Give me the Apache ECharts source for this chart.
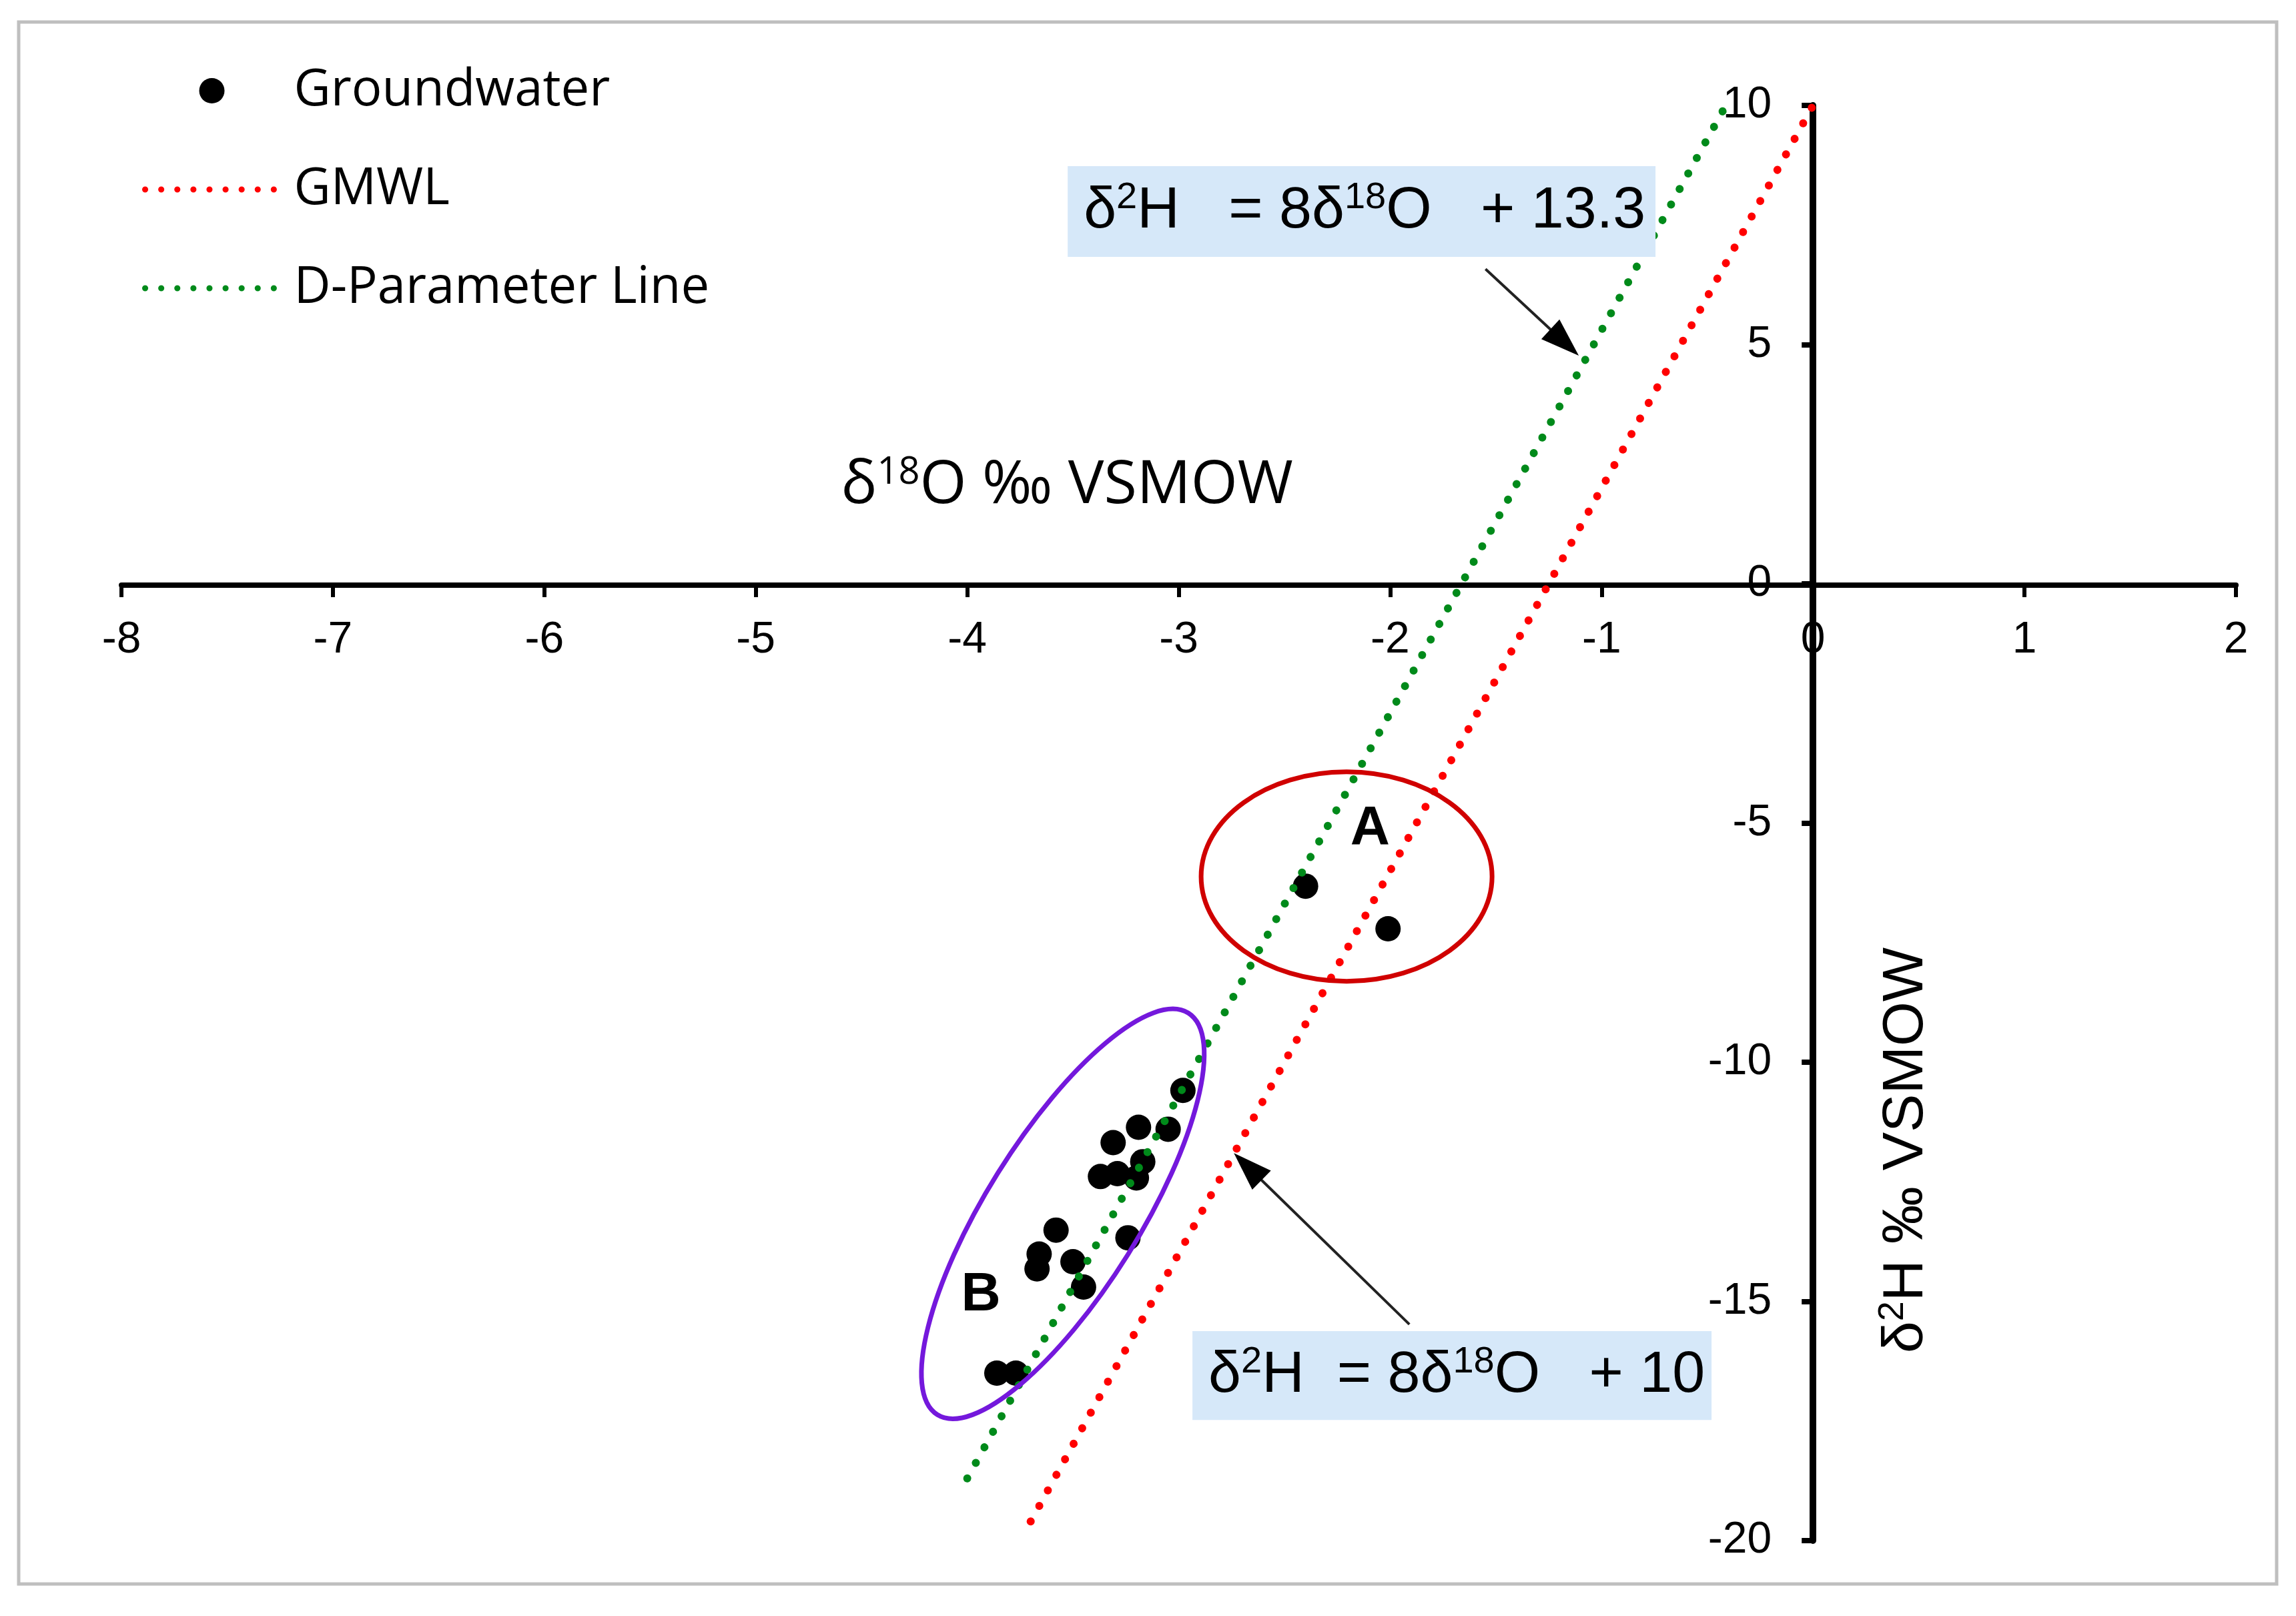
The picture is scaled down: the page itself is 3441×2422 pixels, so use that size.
<!DOCTYPE html>
<html><head><meta charset="utf-8">
<script src="https://cdn.jsdelivr.net/npm/echarts@6/dist/echarts.min.js"></script>
<style>html,body{margin:0;padding:0;background:#fff}#c{width:3441px;height:2422px}</style>
</head><body><div id="c"></div>
<script>
// ---- data ----
const groundwaterX = [-2.40, -2.01, -2.98, -3.05, -3.19, -3.31, -3.17, -3.20, -3.37, -3.29, -3.58, -3.24, -3.66, -3.50, -3.67, -3.45, -3.86, -3.77];
const groundwaterY = [-6.32, -7.21, -10.59, -11.40, -11.36, -11.68, -12.08, -12.42, -12.39, -12.33, -13.51, -13.67, -14.01, -14.17, -14.32, -14.70, -16.50, -16.50];
const gmwlX = [-3.70, 0];
const gmwlY = [-19.6, 10];
const dParamX = [-4.00, -0.4125];
const dParamY = [-18.7, 10];
const seriesNames = ['Groundwater', 'GMWL', 'D-Parameter Line'];
const xRange = [-8, 2];
const yRange = [-20, 10];

const chart = echarts.init(document.getElementById('c'), null, {renderer: 'canvas', width: 3441, height: 2422});

const legendLine = {width: 9, type: [0.1, 24], cap: 'round'};
const option = {
  animation: false,
  backgroundColor: '#ffffff',
  grid: {left: 182, right: 90, top: 158, bottom: 113, containLabel: false},
  xAxis: {
    type: 'value', min: xRange[0], max: xRange[1], interval: 1,
    axisLine: {show: true, onZero: false, lineStyle: {color: '#000', width: 8}},
    axisTick: {show: true, length: 18, lineStyle: {color: '#000', width: 6}},
    axisLabel: {fontSize: 66, color: '#000', fontFamily: 'Liberation Sans', margin: 50},
    splitLine: {show: false}
  },
  yAxis: {
    type: 'value', min: yRange[0], max: yRange[1], interval: 5,
    axisLine: {show: true, onZero: false, lineStyle: {color: '#000', width: 10}},
    axisTick: {show: true, length: 17, lineStyle: {color: '#000', width: 8}},
    axisLabel: {fontSize: 66, color: '#000', fontFamily: 'Liberation Sans', margin: 62},
    splitLine: {show: false}
  },
  legend: {
    orient: 'vertical', left: 213, top: 98, padding: 0, itemGap: 72,
    itemWidth: 200, itemHeight: 38, selectedMode: false,
    textStyle: {fontSize: 76, fontFamily: 'Open Sans', color: '#000', lineHeight: 76, padding: [0, 0, 0, 18]},
    data: [
      {name: seriesNames[0], icon: 'circle', itemStyle: {color: '#000', opacity: 1}},
      {name: seriesNames[1], lineStyle: legendLine, itemStyle: {opacity: 0}},
      {name: seriesNames[2], lineStyle: legendLine, itemStyle: {opacity: 0}}
    ]
  },
  series: [
    {
      name: seriesNames[0], type: 'scatter', symbol: 'circle', symbolSize: 38,
      itemStyle: {color: '#000', opacity: 1}, z: 2,
      data: groundwaterX.map((x, i) => [x, groundwaterY[i]])
    },
    {
      name: seriesNames[1], type: 'line', symbol: 'none', showSymbol: false, z: 3,
      itemStyle: {color: '#FF0000'},
      lineStyle: {color: '#FF0000', width: 12, type: [0.1, 26.5], cap: 'round'},
      data: gmwlX.map((x, i) => [x, gmwlY[i]])
    },
    {
      name: seriesNames[2], type: 'line', symbol: 'none', showSymbol: false, z: 3,
      itemStyle: {color: '#008A1A'},
      lineStyle: {color: '#008A1A', width: 12, type: [0.1, 26.5], cap: 'round'},
      data: dParamX.map((x, i) => [x, dParamY[i]])
    }
  ]
};
chart.setOption(option);

const P = (x, y) => chart.convertToPixel({gridIndex: 0}, [x, y]);
// move both axes (line, ticks, labels) so they cross at the origin
const o = P(0, 0);
const bottomY = P(0, yRange[0])[1];
const leftX = P(xRange[0], 0)[0];
chart.setOption({xAxis: {offset: -(bottomY - o[1])}, yAxis: {offset: -(o[0] - leftX)}});

// ---- annotations, placed in data space ----
const ux = P(1, 0)[0] - o[0];
const uy = o[1] - P(0, 1)[1];

const g = [];
g.push({type: 'rect', shape: {x: 28, y: 33, width: 3384, height: 2341}, style: {fill: 'none', stroke: '#BFBFBF', lineWidth: 5}, z: 0, silent: true});

const cA = P(-2.206, -6.12);
g.push({type: 'ellipse', x: cA[0], y: cA[1], shape: {cx: 0, cy: 0, rx: 0.688 * ux, ry: 2.22 * uy},
  style: {fill: 'none', stroke: '#D00000', lineWidth: 7}, z: 100});
const cB = P(-3.548, -13.17);
g.push({type: 'ellipse', x: cB[0], y: cB[1], rotation: 58 * Math.PI / 180,
  shape: {cx: 0, cy: 0, rx: 1.12 * ux, ry: 0.363 * ux},
  style: {fill: 'none', stroke: '#7418DC', lineWidth: 7}, z: 100});

const lA = P(-2.095, -5.12), lB = P(-3.935, -14.87);
[[lA, 'A'], [lB, 'B']].forEach(([p, t]) => g.push({type: 'text', x: p[0], y: p[1],
  style: {text: t, font: 'bold 82px "Liberation Sans"', fill: '#000', textAlign: 'center', textVerticalAlign: 'middle'}, z: 101}));

const rich = {
  n: {fontSize: 88, fontFamily: 'Liberation Sans', color: '#000'},
  s: {fontSize: 56, fontFamily: 'Liberation Sans', color: '#000', padding: [0, 0, 40, 0]}
};
function eqBox(x1, y1, x2, y2, text) {
  const a = P(x1, y1), b = P(x2, y2);
  g.push({type: 'rect', shape: {x: a[0], y: a[1], width: b[0] - a[0], height: b[1] - a[1]}, style: {fill: '#D6E8F9'}, z: 90});
  g.push({type: 'text', x: a[0] + 24, y: (a[1] + b[1]) / 2,
    style: {text: text, rich: rich, textAlign: 'left', textVerticalAlign: 'middle'}, z: 91});
}
eqBox(-3.525, 8.732, -0.745, 6.835, '{n|δ}{s|2}{n|H   = 8δ}{s|18}{n|O   + 13.3}');
eqBox(-2.935, -15.62, -0.480, -17.48, '{n|δ}{s|2}{n|H  = 8δ}{s|18}{n|O   + 10}');

function arrow(tx, ty, hx, hy) {
  const s = P(tx, ty), t = P(hx, hy);
  const dx = t[0] - s[0], dy = t[1] - s[1], L = Math.hypot(dx, dy);
  const ex = dx / L, ey = dy / L, nx = -ey, ny = ex;
  const hl = 58, hw = 40;
  const bx = t[0] - ex * hl, by = t[1] - ey * hl;
  g.push({type: 'line', shape: {x1: s[0], y1: s[1], x2: bx + ex * 5, y2: by + ey * 5}, style: {stroke: '#222', lineWidth: 4}, z: 95});
  g.push({type: 'polygon', shape: {points: [[t[0], t[1]], [bx + nx * hw / 2, by + ny * hw / 2], [bx - nx * hw / 2, by - ny * hw / 2]]}, style: {fill: '#000'}, z: 95});
}
arrow(-1.549, 6.58, -1.108, 4.77);
arrow(-1.909, -15.48, -2.739, -11.90);

const tx = P(-3.528, 2.04);
g.push({type: 'text', x: tx[0], y: tx[1], style: {
  text: '{n|δ}{s|18}{n|O ‰ VSMOW}',
  rich: {n: {fontSize: 90, fontFamily: 'Open Sans', color: '#000'}, s: {fontSize: 56, fontFamily: 'Open Sans', color: '#000', padding: [0, 0, 40, 0]}},
  textAlign: 'center', textVerticalAlign: 'middle'}, z: 50});
const ty = P(0.442, -11.84);
g.push({type: 'text', x: ty[0], y: ty[1], rotation: Math.PI / 2, style: {
  text: '{n|δ}{s|2}{n|H ‰ VSMOW}',
  rich: {n: {fontSize: 86, fontFamily: 'Liberation Sans', color: '#000'}, s: {fontSize: 54, fontFamily: 'Liberation Sans', color: '#000', padding: [0, 0, 40, 0]}},
  textAlign: 'center', textVerticalAlign: 'middle'}, z: 50});

chart.setOption({graphic: {elements: g}});
</script>
</body></html>
